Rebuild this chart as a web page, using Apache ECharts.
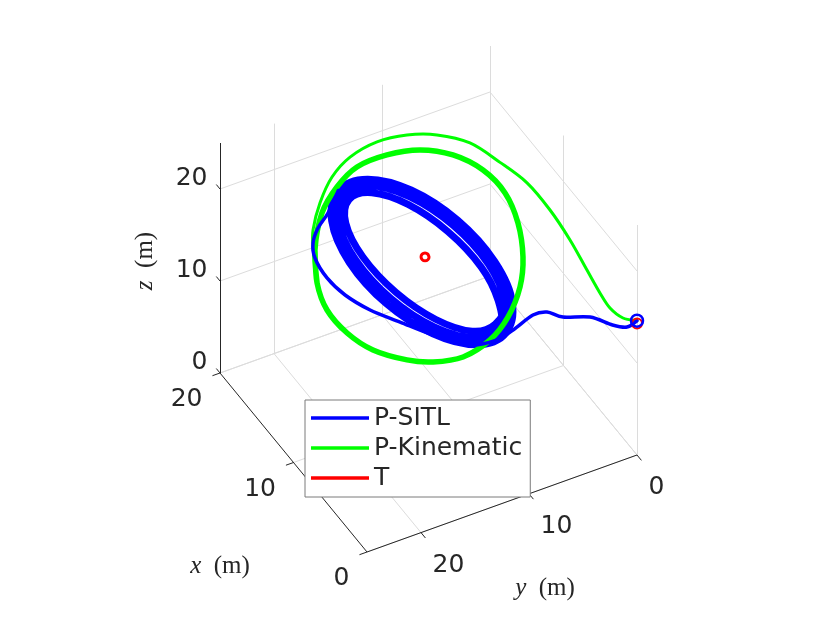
<!DOCTYPE html>
<html>
<head>
<meta charset="utf-8">
<title>P-SITL vs P-Kinematic</title>
<script src="https://cdn.jsdelivr.net/npm/echarts@6/dist/echarts.min.js"></script>
<style>
  html, body { margin: 0; padding: 0; background: #fff; }
  #main { width: 830px; height: 623px; }
</style>
</head>
<body>
<div id="main"></div>
<script>
// axis limits and ticks (m)
const xLim = [0, 20];
const yLim = [0, 25];
const zLim = [0, 25];
const xTicks = [0, 10, 20];
const yTicks = [0, 10, 20];
const zTicks = [0, 10, 20];

// trajectories, [x, y, z] in m
const sitlStart = [0, 0, 14.6];
const redStart = [0, 0, 14.3];

const sitlApproach = [
  [0, 0, 14.6], [0.5, 0.585, 13.67], [1.2, 1.45, 13.58], [2.2, 2.85, 14.06],
  [3.4, 4.54, 13.6], [4.4, 5.34, 13.52], [5.5, 5.89, 12.35], [7.2, 6.58, 9.36],
  [8.84, 6.94, 6.84], [8.65, 9.57, 7.59], [9.03, 12.74, 9.64], [9.52, 15.46, 11.71],
  [9.98, 17.92, 13.61], [10.55, 19.85, 15.5], [11.2, 21.08, 17.24], [11.96, 21.68, 18.92],
  [12.53, 21.47, 19.91], [13.1, 20.62, 20.62], [13.68, 19.3, 21.14], [14.54, 17.76, 22.1]
];
const sitlLoopOuter = [
  [9.09, 5.98, 6.9], [8.65, 8.97, 7.35], [9.07, 12.73, 9.71], [10.22, 16.26, 13.36],
  [11.79, 18.62, 17.31], [13.37, 19.17, 20.51], [14.54, 17.76, 22.1], [14.97, 14.77, 21.65],
  [14.55, 11.01, 19.29], [13.4, 7.48, 15.64], [11.83, 5.12, 11.69], [10.25, 4.57, 8.49]
];
const sitlLoopMid = [
  [9.26, 6.36, 7.38], [8.91, 9.01, 7.84], [9.33, 12.43, 10.08], [10.42, 15.7, 13.5],
  [11.88, 17.95, 17.2], [13.32, 18.56, 20.16], [14.36, 17.39, 21.62], [14.71, 14.73, 21.16],
  [14.29, 11.31, 18.92], [13.2, 8.04, 15.5], [11.74, 5.79, 11.8], [10.3, 5.18, 8.84]
];
const sitlLoopInner = [
  [9.43, 6.73, 7.87], [9.17, 9.02, 8.34], [9.62, 12.07, 10.46], [10.65, 15.07, 13.67],
  [12.0, 17.21, 17.1], [13.29, 17.92, 19.83], [14.19, 17.01, 21.13], [14.45, 14.72, 20.66],
  [14.0, 11.67, 18.54], [12.97, 8.68, 15.33], [11.62, 6.53, 11.9], [10.33, 5.82, 9.17]
];

const kinApproach = [
  [0, 0, 14.6], [0.5, 0.96, 14.81], [1, 1.82, 15.77], [1.5, 2.41, 17.17],
  [2.5, 2.93, 18.9], [4, 3.48, 20.95], [6, 3.97, 22.47], [8, 4.74, 23.8],
  [11, 5.2, 23.3], [13, 6.62, 24.06], [15, 8.31, 23.7], [16, 10.41, 23.6],
  [16.5, 12.84, 23.4], [16.5, 15.34, 22.8], [16, 17.35, 21.97], [15, 19.14, 20.9],
  [13.5, 20.81, 20.1], [12.27, 21.65, 19.48]
];
const kinOrbit = [
  [12.27, 21.47, 19.4], [11.01, 22.13, 17.32], [9.98, 21.91, 15.29], [9.1, 20.65, 13.12],
  [8.46, 18.69, 11.07], [8.08, 15.8, 9.14], [8.0, 13.44, 8.0], [8.19, 10.53, 7.13],
  [8.84, 7.59, 7.11], [9.71, 5.33, 7.81], [10.86, 3.44, 9.16], [12.0, 2.39, 10.86],
  [13.3, 1.97, 13.12], [14.44, 2.39, 15.45], [15.31, 3.84, 17.7], [15.89, 6.23, 19.78],
  [16.08, 9.15, 21.37], [15.89, 12.34, 22.36], [15.43, 15.43, 22.8], [14.67, 17.8, 22.37],
  [13.68, 19.86, 21.37], [12.27, 21.47, 19.4], [11.01, 22.13, 17.32]
];

const targetPath = [
  [12.0, 11.09, 14.53], [12.11, 11.13, 14.75], [12.15, 11.36, 14.93], [12.11, 11.65, 14.97],
  [12.0, 11.83, 14.85], [11.89, 11.79, 14.63], [11.85, 11.56, 14.45], [11.89, 11.27, 14.41],
  [12.0, 11.09, 14.53], [12.11, 11.13, 14.75]
];

// orthographic view: screen offsets per metre along x, y, z
const VIEW_U = [-7.35, -10.8, 0];
const VIEW_V = [-8.95, 3.88, -9.2];

function proj(p) {
  return [
    VIEW_U[0] * p[0] + VIEW_U[1] * p[1] + VIEW_U[2] * p[2],
    VIEW_V[0] * p[0] + VIEW_V[1] * p[1] + VIEW_V[2] * p[2]
  ];
}
function seg(a, b) { return { coords: [proj(a), proj(b)] }; }

const x0 = xLim[0], x1 = xLim[1], y0 = yLim[0], y1 = yLim[1], z0 = zLim[0], z1 = zLim[1];

// grid lines on floor and the two back walls
const gridSegs = [];
xTicks.forEach(t => gridSegs.push(seg([t, y0, z0], [t, y1, z0])));
yTicks.forEach(t => gridSegs.push(seg([x0, t, z0], [x1, t, z0])));
yTicks.forEach(t => gridSegs.push(seg([x1, t, z0], [x1, t, z1])));
zTicks.forEach(t => gridSegs.push(seg([x1, y0, t], [x1, y1, t])));
xTicks.forEach(t => gridSegs.push(seg([t, y0, z0], [t, y0, z1])));
zTicks.forEach(t => gridSegs.push(seg([x0, y0, t], [x1, y0, t])));

const axisSegs = [
  seg([x1, y1, z0], [x0, y1, z0]),
  seg([x0, y1, z0], [x0, y0, z0]),
  seg([x1, y1, z0], [x1, y1, z1])
];
const tickSegs = [];
xTicks.forEach(t => tickSegs.push(seg([t, y1, z0], [t, y1 + 0.7, z0])));
yTicks.forEach(t => tickSegs.push(seg([x0, t, z0], [x0 - 0.6, t, z0])));
zTicks.forEach(t => tickSegs.push(seg([x1, y1, t], [x1 + 0.5, y1, t])));

const sitlLoops = [].concat(
  sitlLoopOuter.slice(6), sitlLoopOuter, sitlLoopMid, sitlLoopInner,
  sitlLoopMid, sitlLoopOuter.slice(0, 7)
);

const BLUE = '#0000ff', GREEN = '#00ff00', RED = '#ff0000', INK = '#262626';
const FONT = 'DejaVu Sans';

// trajectory drawn as one smooth path through its points (Catmull-Rom)
function path(name, pts, color, width) {
  const xy = pts.map(proj);
  return {
    name: name, type: 'custom', coordinateSystem: 'cartesian2d', silent: true,
    itemStyle: { color: color },
    data: [xy[0]],
    renderItem: function (params, api) {
      const p = xy.map(q => api.coord(q));
      let d = 'M' + p[0][0].toFixed(2) + ' ' + p[0][1].toFixed(2);
      for (let i = 0; i < p.length - 1; i++) {
        const a = p[i - 1] || p[i], b = p[i], c = p[i + 1], e = p[i + 2] || p[i + 1];
        const c1x = b[0] + (c[0] - a[0]) / 6, c1y = b[1] + (c[1] - a[1]) / 6;
        const c2x = c[0] - (e[0] - b[0]) / 6, c2y = c[1] - (e[1] - b[1]) / 6;
        d += ' C' + c1x.toFixed(2) + ' ' + c1y.toFixed(2) + ' ' + c2x.toFixed(2) + ' ' +
          c2y.toFixed(2) + ' ' + c[0].toFixed(2) + ' ' + c[1].toFixed(2);
      }
      return {
        type: 'path', shape: { pathData: d },
        style: { fill: 'none', stroke: color, lineWidth: width, lineCap: 'round', lineJoin: 'round' }
      };
    }
  };
}
function tickLabels(ticks, at, pos, align) {
  return {
    type: 'scatter', symbolSize: 1, silent: true,
    itemStyle: { color: 'transparent', opacity: 1 },
    data: ticks.map(t => ({ value: proj(at(t)), name: String(t) })),
    label: {
      show: true, formatter: '{b}', position: pos, align: align, verticalAlign: 'middle',
      fontSize: 25, fontFamily: FONT, color: INK, opacity: 1
    }
  };
}

const titleRich = {
  i: { fontStyle: 'italic', fontFamily: 'Liberation Serif', fontSize: 25, fill: INK }
};
function title(text, x, y, rot) {
  return {
    type: 'text', x: x, y: y, rotation: rot || 0, silent: true,
    style: {
      text: text, rich: titleRich, align: 'center', verticalAlign: 'middle',
      fontFamily: 'Liberation Serif', fontSize: 25, fill: INK
    }
  };
}

const chart = echarts.init(document.getElementById('main'));
chart.setOption({
  animation: false,
  backgroundColor: '#fff',
  grid: { left: 0, top: 0, width: 830, height: 623 },
  xAxis: { type: 'value', min: -637, max: 193, show: false },
  yAxis: { type: 'value', min: -455, max: 168, inverse: true, show: false },
  legend: {
    data: [
      { name: 'P-SITL', icon: 'rect' },
      { name: 'P-Kinematic', icon: 'rect' },
      { name: 'T', icon: 'rect' }
    ],
    orient: 'vertical', left: 305, top: 400,
    padding: [3, 8, 4, 6], itemGap: 0,
    itemWidth: 58, itemHeight: 3.5,
    backgroundColor: '#fff', borderColor: '#7a7a7a', borderWidth: 1,
    selectedMode: false,
    textStyle: { fontSize: 25, fontFamily: FONT, color: INK, lineHeight: 30 }
  },
  graphic: [
    title('{i|x}  (m)', 220, 566),
    title('{i|y}  (m)', 545, 588),
    title('{i|z}  (m)', 145, 261, Math.PI / 2)
  ],
  series: [
    { type: 'lines', coordinateSystem: 'cartesian2d', silent: true, data: gridSegs,
      lineStyle: { color: '#dcdcdc', width: 1, opacity: 1 } },
    { type: 'lines', coordinateSystem: 'cartesian2d', silent: true, data: axisSegs,
      lineStyle: { color: INK, width: 1, opacity: 1 } },
    { type: 'lines', coordinateSystem: 'cartesian2d', silent: true, data: tickSegs,
      lineStyle: { color: INK, width: 1, opacity: 1 } },
    path('P-SITL', sitlLoops, BLUE, 7),
    path('P-Kinematic', kinOrbit, GREEN, 5.5),
    path('P-Kinematic', kinApproach, GREEN, 3),
    path('P-SITL', sitlApproach, BLUE, 3.5),
    path('T', targetPath, RED, 3),
    { type: 'scatter', silent: true, symbol: 'circle', symbolSize: 10,
      data: [proj(redStart)],
      itemStyle: { color: 'transparent', borderColor: RED, borderWidth: 2, opacity: 1 } },
    { type: 'scatter', silent: true, symbol: 'circle', symbolSize: 12,
      data: [proj(sitlStart)],
      itemStyle: { color: 'transparent', borderColor: BLUE, borderWidth: 2.5, opacity: 1 } },
    tickLabels(xTicks, t => [t, y1, z0], [-17, 27], 'right'),
    tickLabels(yTicks, t => [x0, t, z0], [12, 33], 'left'),
    tickLabels(zTicks, t => [x1, y1, t], [-12, -10], 'right')
  ]
});
</script>
</body>
</html>
